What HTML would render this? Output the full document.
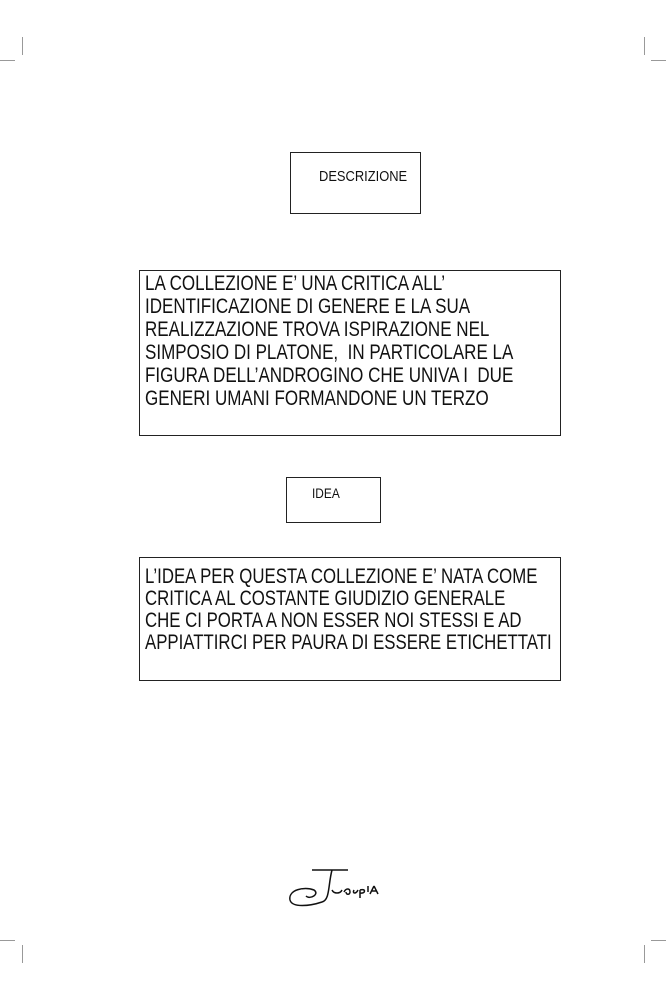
<!DOCTYPE html>
<html><head><meta charset="utf-8"><style>
body{margin:0;width:666px;height:1000px;background:#fff;position:relative;overflow:hidden;font-family:"Liberation Sans",sans-serif;color:#111}
.b{position:absolute;border:1.3px solid #222;box-sizing:border-box}
.t{position:absolute;white-space:nowrap;transform-origin:0 0;font-weight:normal}
.m{position:absolute;background:#999}
</style></head><body>
<div class="m" style="left:22px;top:37px;width:1px;height:18px"></div>
<div class="m" style="left:0;top:60px;width:15px;height:1px"></div>
<div class="m" style="left:644px;top:37px;width:1px;height:18px"></div>
<div class="m" style="left:651px;top:60px;width:15px;height:1px"></div>
<div class="m" style="left:22px;top:945px;width:1px;height:18px"></div>
<div class="m" style="left:0;top:940px;width:15px;height:1px"></div>
<div class="m" style="left:644px;top:945px;width:1px;height:18px"></div>
<div class="m" style="left:651px;top:940px;width:15px;height:1px"></div>

<div class="b" style="left:290px;top:152px;width:131px;height:62px"></div>
<div class="t" style="left:319px;top:168px;font-size:15px;transform:scaleX(0.86)">DESCRIZIONE</div>

<div class="b" style="left:139px;top:270px;width:422px;height:166px"></div>
<div class="t" style="left:145px;top:272px;font-size:21px;line-height:23px;transform:scaleX(0.81)">LA COLLEZIONE E’ UNA CRITICA ALL’<br>IDENTIFICAZIONE DI GENERE E LA SUA<br>REALIZZAZIONE TROVA ISPIRAZIONE NEL<br>SIMPOSIO DI PLATONE,&nbsp; IN PARTICOLARE LA<br>FIGURA DELL’ANDROGINO CHE UNIVA I&nbsp; DUE<br>GENERI UMANI FORMANDONE UN TERZO</div>

<div class="b" style="left:286px;top:477px;width:95px;height:46px"></div>
<div class="t" style="left:312px;top:485px;font-size:14px;transform:scaleX(0.85)">IDEA</div>

<div class="b" style="left:139px;top:557px;width:422px;height:124px"></div>
<div class="t" style="left:145px;top:566px;font-size:21px;line-height:22px;transform:scaleX(0.8)">L’IDEA PER QUESTA COLLEZIONE E’ NATA COME<br>CRITICA AL COSTANTE GIUDIZIO GENERALE<br>CHE CI PORTA A NON ESSER NOI STESSI E AD<br>APPIATTIRCI PER PAURA DI ESSERE ETICHETTATI</div>

<svg style="position:absolute;left:270px;top:850px" width="120" height="70">
<g fill="none" stroke="#111" stroke-width="1.5">
<path d="M42 20 L78 20"/>
<path d="M62 20 C58 35 60 50 52 52 C40 56 22 58 20 50 C18 40 34 36 44 40 C50 44 40 50 36 46"/>
<path d="M62 40 C64 44 70 44 72 40 M74 42 C76 38 80 38 80 42 C80 45 76 45 76 42 M84 40 C82 44 86 44 88 40 M90 40 L90 48 M90 40 C96 38 96 44 90 43 M98 36 L98 42 M104 36 L100 44 M104 36 L108 44 M101 41 L107 41"/>
</g></svg>
</body></html>
